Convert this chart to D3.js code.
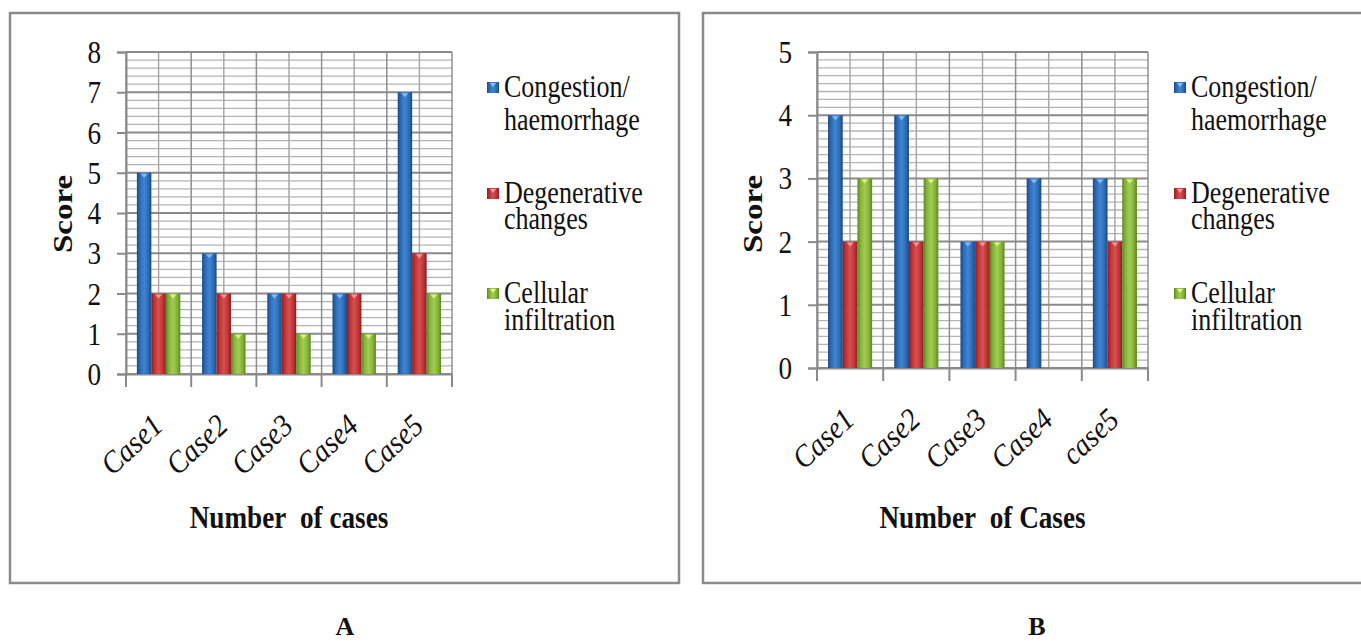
<!DOCTYPE html>
<html>
<head>
<meta charset="utf-8">
<script src="https://cdn.jsdelivr.net/npm/d3@7"></script>
<style>
  html, body { margin: 0; padding: 0; background: #fff; }
  svg { display: block; }
</style>
</head>
<body>
<script>
// Histopathology scores per case, two panels (A and B)
const casesA = ["Case1", "Case2", "Case3", "Case4", "Case5"];
const casesB = ["Case1", "Case2", "Case3", "Case4", "case5"];
const seriesLabels = [["Congestion/", "haemorrhage"], ["Degenerative", "changes"], ["Cellular", "infiltration"]];

const congestionA   = [5, 3, 2, 2, 7];
const degenerativeA = [2, 2, 2, 2, 3];
const cellularA     = [2, 1, 1, 1, 2];

const congestionB   = [4, 4, 2, 3, 3];
const degenerativeB = [2, 2, 2, 0, 2];
const cellularB     = [3, 3, 2, 0, 3];

const yTicksA = [0, 1, 2, 3, 4, 5, 6, 7, 8];
const yTicksB = [0, 1, 2, 3, 4, 5];

const xTitleA = "Number\u00a0\u00a0of cases";
const xTitleB = "Number\u00a0\u00a0of Cases";
const yTitle = "Score";

const W = 1361, H = 641;
const svg = d3.select("body").append("svg").attr("width", W).attr("height", H);
const defs = svg.append("defs");

// Cylinder-style shading for each series
const palette = [
  { id: "gBlue",  edge: "#1c4884", mid: "#2d6cb6", hi: "#3f85d2", tip: "#8cc2f2" },
  { id: "gRed",   edge: "#8a1c1e", mid: "#c13538", hi: "#d6504f", tip: "#f2a1a1" },
  { id: "gGreen", edge: "#5a8720", mid: "#86b43a", hi: "#a2cc55", tip: "#e6f28a" }
];
palette.forEach(p => {
  const g = defs.append("linearGradient").attr("id", p.id)
    .attr("x1", "0%").attr("x2", "100%").attr("y1", "0%").attr("y2", "0%");
  [[0, p.edge], [0.22, p.mid], [0.5, p.hi], [0.78, p.mid], [1, p.edge]]
    .forEach(([o, c]) => g.append("stop").attr("offset", o).attr("stop-color", c));
});

// Condensed serif text helper (horizontal squeeze along the baseline)
function sText(parent, x, y, str, opts) {
  const o = Object.assign({ size: 31, sx: 0.85, anchor: "start", weight: "normal", style: "normal", rot: 0, sy: 1 }, opts);
  return parent.append("text")
    .attr("transform", `translate(${x},${y}) rotate(${o.rot}) scale(${o.sx},${o.sy})`)
    .attr("text-anchor", o.anchor)
    .attr("font-size", o.size)
    .style("font-family", '"Liberation Serif"')
    .style("font-weight", o.weight)
    .style("font-style", o.style)
    .attr("fill", "#111")
    .text(str);
}

function drawPanel(cfg) {
  const g = svg.append("g");

  // outer frame
  g.append("rect")
    .attr("x", cfg.box.x).attr("y", cfg.box.y)
    .attr("width", cfg.box.w).attr("height", cfg.box.h)
    .attr("fill", "#fff").attr("stroke", "#8a8a8a").attr("stroke-width", 2.5);

  const x0 = d3.scaleBand().domain(cfg.cases).range([cfg.plot.left, cfg.plot.right]).padding(0);
  const bw = x0.bandwidth();
  const groupW = bw * 0.666;
  const x1 = d3.scaleBand().domain(d3.range(cfg.series.length))
    .range([(bw - groupW) / 2, (bw + groupW) / 2]).padding(0);
  const y = d3.scaleLinear().domain([0, cfg.yMax]).range([cfg.plot.bottom, cfg.plot.top]);

  const grid = g.append("g");
  // minor horizontal gridlines
  const minorVals = d3.range(0, cfg.yMax * cfg.minor + 1).map(i => i / cfg.minor)
    .filter(v => Math.abs(v - Math.round(v)) > 1e-6);
  grid.selectAll(".hmin").data(minorVals).join("line")
    .attr("x1", cfg.plot.left).attr("x2", cfg.plot.right)
    .attr("y1", d => y(d)).attr("y2", d => y(d))
    .attr("stroke", "#b4b4b4").attr("stroke-width", 1.3);
  // vertical gridlines: category mid-points and boundaries
  const mids = cfg.cases.map(c => x0(c) + bw / 2);
  grid.selectAll(".vmid").data(mids).join("line")
    .attr("x1", d => d).attr("x2", d => d)
    .attr("y1", cfg.plot.top).attr("y2", cfg.plot.bottom)
    .attr("stroke", "#a8a8a8").attr("stroke-width", 1.5);
  const bounds = cfg.cases.map(c => x0(c)).concat([cfg.plot.right]);
  grid.selectAll(".vb").data(bounds).join("line")
    .attr("x1", d => d).attr("x2", d => d)
    .attr("y1", cfg.plot.top).attr("y2", cfg.plot.bottom)
    .attr("stroke", "#8e8e8e").attr("stroke-width", 1.5);
  // major horizontal gridlines
  grid.selectAll(".hmaj").data(cfg.yTicks).join("line")
    .attr("x1", cfg.plot.left).attr("x2", cfg.plot.right)
    .attr("y1", d => y(d)).attr("y2", d => y(d))
    .attr("stroke", "#8a8a8a").attr("stroke-width", 2);

  // y axis
  const yAxis = g.append("g").attr("transform", `translate(${cfg.plot.left},0)`)
    .call(d3.axisLeft(y).tickValues(cfg.yTicks).tickSize(9).tickFormat(""));
  yAxis.selectAll("path, line").attr("stroke", "#8a8a8a").attr("stroke-width", 2);
  cfg.yTicks.forEach(v => sText(g, cfg.plot.left - 25, y(v) + 11, String(v), { anchor: "end", size: 32, sx: 0.85 }));

  // x axis
  const xAxis = g.append("g").attr("transform", `translate(0,${cfg.plot.bottom})`)
    .call(d3.axisBottom(x0).tickSize(0).tickFormat(""));
  xAxis.selectAll("path").attr("stroke", "#8a8a8a").attr("stroke-width", 2);
  g.selectAll(".xt").data(bounds).join("line")
    .attr("x1", d => d).attr("x2", d => d)
    .attr("y1", cfg.plot.bottom).attr("y2", cfg.plot.bottom + 13)
    .attr("stroke", "#8a8a8a").attr("stroke-width", 2);

  // bars
  cfg.series.forEach((vals, si) => {
    const p = palette[si];
    const bars = g.append("g");
    const rows = vals.map((v, i) => ({ v, c: cfg.cases[i] })).filter(d => d.v > 0);
    bars.selectAll("rect").data(rows).join("rect")
      .attr("x", d => x0(d.c) + x1(si))
      .attr("y", d => y(d.v))
      .attr("width", x1.bandwidth())
      .attr("height", d => y(0) - y(d.v))
      .attr("fill", `url(#${p.id})`);
    bars.selectAll("path").data(rows).join("path")
      .attr("d", d => {
        const cx = x0(d.c) + x1(si) + x1.bandwidth() / 2, ty = y(d.v) + 1;
        return `M${cx - 3.5},${ty}L${cx + 3.5},${ty}L${cx},${ty + 4}Z`;
      })
      .attr("fill", p.tip).attr("opacity", 0.9);
  });

  // category labels
  cfg.cases.forEach(c => {
    sText(g, x0(c) + bw / 2 + 6, cfg.plot.bottom + 54, c,
      { anchor: "end", size: 31, sx: 0.92, style: "italic", rot: -43 });
  });

  // axis titles
  sText(g, (cfg.plot.left + cfg.plot.right) / 2, 528, cfg.xTitle,
    { anchor: "middle", size: 32, sx: 0.85, weight: "bold" });
  sText(g, cfg.scoreX, 214, yTitle,
    { anchor: "middle", size: 33, sx: 1, sy: 0.85, weight: "bold", rot: -90 });

  // legend
  const lineSets = [[97, 130], [203, 229], [303, 330]];
  seriesLabels.forEach((lines, si) => {
    const p = palette[si];
    const sq = lineSets[si][0] - 10;
    g.append("rect").attr("x", cfg.legend.sqX).attr("y", sq - 5)
      .attr("width", 12).attr("height", 11).attr("fill", `url(#${p.id})`);
    g.append("path")
      .attr("d", `M${cfg.legend.sqX + 3},${sq - 4}L${cfg.legend.sqX + 9},${sq - 4}L${cfg.legend.sqX + 6},${sq}Z`)
      .attr("fill", p.tip);
    lines.forEach((ln, li) => sText(g, cfg.legend.textX, lineSets[si][li], ln, { size: 31, sx: 0.84 }));
  });

  // panel letter
  sText(svg, cfg.letter.x, 635, cfg.letter.t, { anchor: "middle", size: 26, sx: 1, weight: "bold" });
}

drawPanel({
  cases: casesA,
  series: [congestionA, degenerativeA, cellularA],
  yMax: 8, yTicks: yTicksA, minor: 5,
  box: { x: 10, y: 13, w: 669, h: 570 },
  plot: { left: 126, right: 452, top: 52, bottom: 374 },
  xTitle: xTitleA, scoreX: 72,
  legend: { sqX: 487, textX: 504 },
  letter: { x: 345, t: "A" }
});

drawPanel({
  cases: casesB,
  series: [congestionB, degenerativeB, cellularB],
  yMax: 5, yTicks: yTicksB, minor: 8,
  box: { x: 703, y: 13, w: 680, h: 570 },
  plot: { left: 817, right: 1148, top: 52, bottom: 368 },
  xTitle: xTitleB, scoreX: 762,
  legend: { sqX: 1174, textX: 1191 },
  letter: { x: 1037, t: "B" }
});
</script>
</body>
</html>
